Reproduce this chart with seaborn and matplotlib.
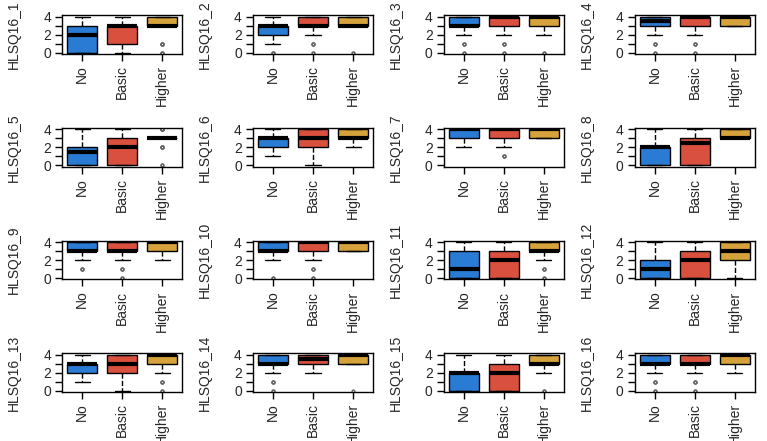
import matplotlib
matplotlib.use("Agg")
import matplotlib.pyplot as plt
import numpy as np
import pandas as pd
import seaborn as sns

### Data : counts of answers 0..4 per education level, for each question
questions = ["HLSQ16_%d" % i for i in range(1, 17)]
groups = ["No", "Basic", "Higher"]
scores = [0, 1, 2, 3, 4]

counts_no = [
    [30, 15, 15, 25, 15], [3, 8, 25, 50, 14], [2, 3, 10, 40, 45], [2, 3, 10, 35, 50],
    [30, 20, 30, 5, 15], [0, 8, 30, 45, 17], [0, 0, 10, 30, 60], [30, 15, 35, 5, 15],
    [0, 3, 10, 40, 47], [2, 0, 10, 40, 48], [26, 30, 15, 15, 14], [30, 25, 25, 5, 15],
    [0, 8, 30, 45, 17], [2, 3, 10, 40, 45], [30, 15, 35, 5, 15], [2, 3, 10, 40, 45],
]
counts_basic = [
    [10, 20, 15, 45, 10], [2, 3, 10, 40, 45], [2, 3, 10, 30, 55], [2, 3, 10, 25, 60],
    [26, 14, 20, 25, 15], [5, 8, 20, 30, 37], [0, 3, 8, 30, 59], [26, 10, 14, 35, 15],
    [2, 3, 10, 40, 45], [2, 3, 10, 30, 55], [26, 14, 20, 25, 15], [26, 14, 20, 25, 15],
    [5, 8, 20, 30, 37], [0, 0, 10, 40, 50], [26, 14, 20, 25, 15], [2, 3, 10, 40, 45],
]
counts_higher = [
    [3, 4, 0, 50, 43], [2, 0, 0, 50, 48], [2, 0, 10, 30, 58], [0, 0, 0, 30, 70],
    [2, 0, 4, 88, 6], [0, 0, 10, 45, 45], [0, 0, 0, 35, 65], [0, 0, 0, 55, 45],
    [0, 0, 10, 30, 60], [0, 0, 0, 35, 65], [2, 3, 10, 40, 45], [5, 5, 20, 30, 40],
    [2, 3, 10, 30, 55], [1, 0, 0, 34, 65], [2, 0, 10, 40, 48], [0, 0, 10, 30, 60],
]

colors = ["#2a7bd4", "#d9513e", "#d6a23b"]

sns.set_style("ticks")
plt.rcParams["font.family"] = ["Liberation Sans", "DejaVu Sans"]

fig, axes = plt.subplots(4, 4, figsize=(7.67, 4.41), dpi=100)
fig.subplots_adjust(left=0.081, right=0.984, top=0.965, bottom=0.111,
                    wspace=0.59, hspace=1.9)

for i, q in enumerate(questions):
    ax = axes.flat[i]
    rows = []
    for g, cnt in zip(groups, [counts_no[i], counts_basic[i], counts_higher[i]]):
        vals = np.repeat(scores, cnt)
        rows.append(pd.DataFrame({"group": g, "score": vals}))
    df = pd.concat(rows, ignore_index=True)

    sns.boxplot(data=df, x="group", y="score", hue="group", order=groups,
                hue_order=groups, palette=colors, saturation=1, width=0.75,
                linecolor="black", linewidth=1.0, legend=False, ax=ax,
                whiskerprops={"linestyle": "--"},
                medianprops={"linewidth": 3, "color": "black"},
                flierprops={"marker": "o", "markersize": 2,
                            "markerfacecolor": "none",
                            "markeredgecolor": "#666666"})

    ax.set_ylim(-0.16, 4.16)
    ax.set_xlim(-0.5, 2.5)
    ax.set_yticks(scores)
    ax.set_yticklabels(["0", "", "2", "", "4"], fontsize=10)
    ax.set_xticks(range(3))
    ax.set_xticklabels(groups, rotation=90, fontsize=10)
    ax.tick_params(length=5, width=1, pad=3, color="black")
    ax.set_xlabel("")
    ax.set_ylabel(q, fontsize=10, labelpad=16)
    for sp in ax.spines.values():
        sp.set_linewidth(1.0)
        sp.set_color("black")

plt.savefig("out.png", dpi=100)
